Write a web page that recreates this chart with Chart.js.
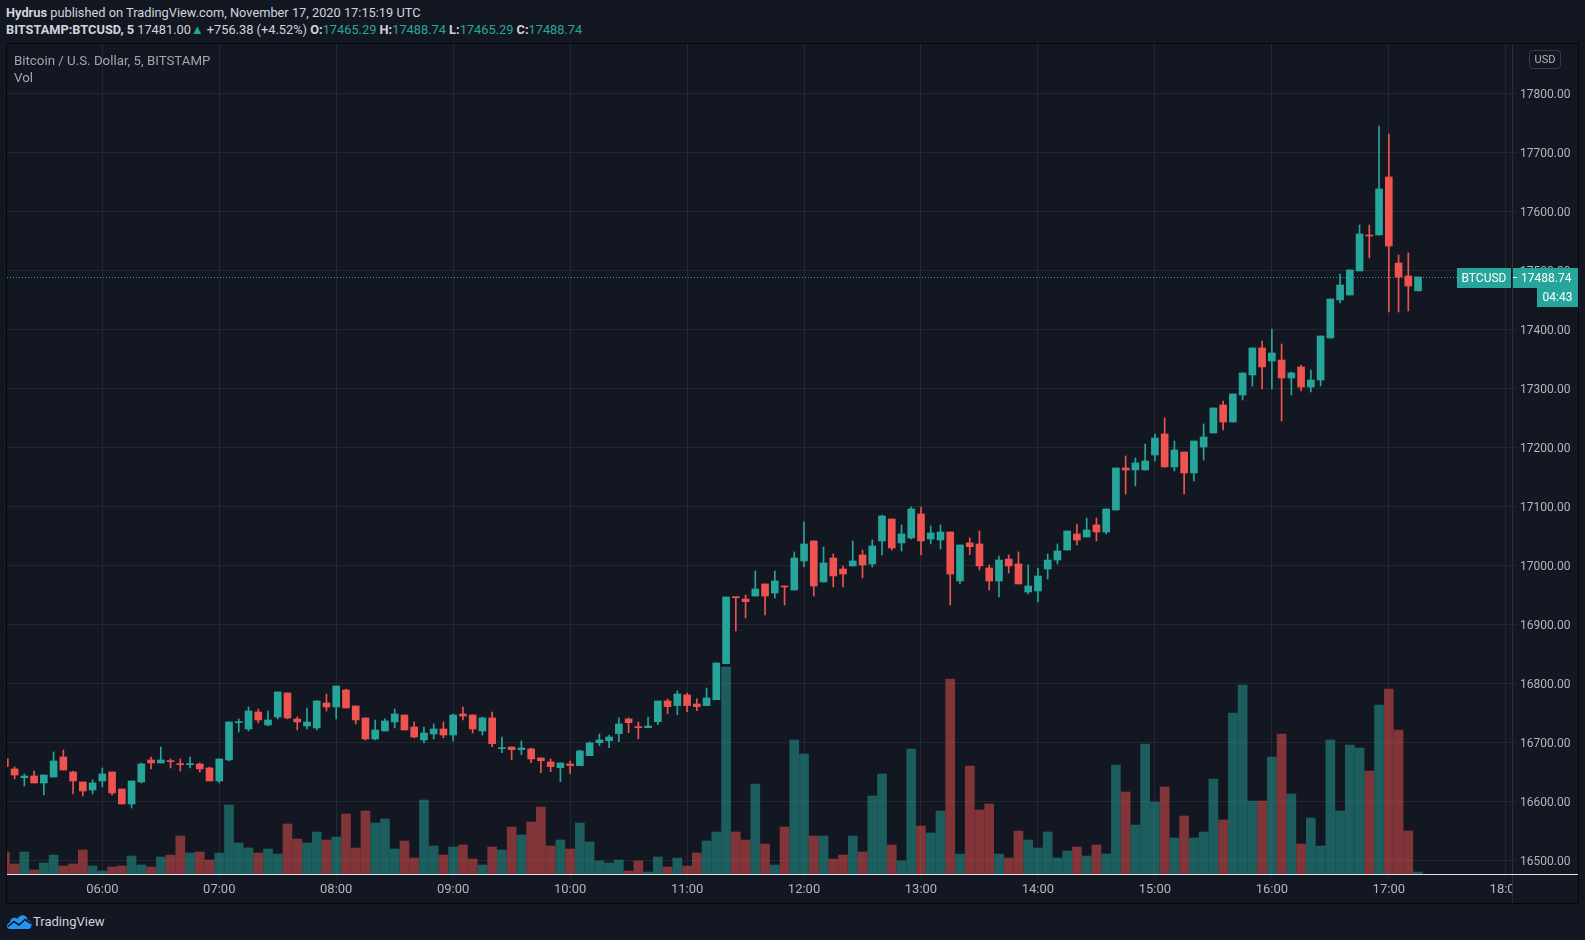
<!DOCTYPE html>
<html>
<head>
<meta charset="utf-8">
<script src="https://cdn.jsdelivr.net/npm/chart.js@4.4.1/dist/chart.umd.min.js"></script>
<style>
  body { margin: 0; width: 1585px; height: 940px; overflow: hidden; position: relative; background: #131722; color: #d1d4dc; font-family: Roboto, sans-serif; }
  .head { position: absolute; left: 6px; font: 12.8px "Liberation Sans Narrow", Roboto, sans-serif; line-height: 16px; white-space: nowrap; }
  .head b { font-weight: bold; }
  .t { color: #26a69a; }
  #frame { position: absolute; left: 6px; top: 43px; width: 1573px; height: 861px; box-sizing: border-box; border: 1px solid #05070b; }
  #chart { position: absolute; left: 0; top: 0; }
  .legend { position: absolute; left: 14px; font: 13.3px "Liberation Sans Narrow", Roboto, sans-serif; line-height: 16px; color: #a3a6af; }
  #usd { position: absolute; left: 1529px; top: 50px; width: 32px; height: 19px; box-sizing: border-box; border: 1px solid #363a45; border-radius: 4px; font: 11px Roboto, sans-serif; line-height: 17px; text-align: center; color: #b2b5be; }
  #footer { position: absolute; left: 6px; top: 913px; height: 16px; display: flex; align-items: center; font: 13px Roboto, sans-serif; color: #d1d4dc; }
  #footer svg { margin-right: 1px; }
</style>
</head>
<body>
<div class="head" style="top:5px"><b>Hydrus</b> published on TradingView.com, November 17, 2020 17:15:19 UTC</div>
<div class="head" style="top:22px"><b>BITSTAMP:BTCUSD, 5</b> 17481.00<span class="t">&#9650;</span> +756.38 (+4.52%) <b>O:</b><span class="t">17465.29</span> <b>H:</b><span class="t">17488.74</span> <b>L:</b><span class="t">17465.29</span> <b>C:</b><span class="t">17488.74</span></div>

<div id="frame"><canvas id="chart" width="1571" height="859"></canvas></div>
<div class="legend" style="top:53px">Bitcoin / U.S. Dollar, 5, BITSTAMP</div>
<div class="legend" style="top:70px">Vol</div>
<div id="usd">USD</div>

<div id="footer">
  <svg width="26" height="15" viewBox="0 0 26 15">
    <path d="M4 15 C0 15 0 9 4 8.5 C4 4 9 2.5 11.5 5 C13.5 0 21 0 21.5 6 C25 6 26.5 10 25 13 C24.5 14.5 23.5 15 22 15 Z" fill="#2196f3"/>
    <polyline points="2,12.5 8,7.5 13,11 19,5.5 25,9.5" fill="none" stroke="#131722" stroke-width="1.6"/>
  </svg>
  <span>TradingView</span>
</div>

<script>
// 5 minute candles, BITSTAMP:BTCUSD, 17 Nov 2020, first candle 05:10 UTC
const firstCandle = "05:10";
const candleMinutes = 5;

const opens = [
  16671.8, 16654.8, 16640.1, 16642.9, 16631.1, 16641.2, 16675.1, 16649.7, 16632.8, 16619.2,
  16634.5, 16649.7, 16620.9, 16595.5, 16632.8, 16670.1, 16665.0, 16668.4, 16663.3, 16662.2,
  16663.3, 16656.5, 16634.5, 16670.1, 16733.3, 16722.6, 16751.4, 16729.4, 16742.9, 16783.6,
  16739.6, 16727.7, 16724.3, 16766.7, 16759.9, 16788.7, 16761.6, 16741.3, 16705.7, 16719.2,
  16734.5, 16746.3, 16726.0, 16704.0, 16714.1, 16722.6, 16712.4, 16748.0, 16746.3, 16719.2,
  16741.3, 16689.3, 16692.1, 16687.6, 16688.7, 16673.5, 16666.7, 16657.1, 16663.3, 16660.5,
  16677.4, 16699.4, 16702.8, 16714.7, 16739.6, 16726.0, 16724.9, 16735.0, 16770.1, 16762.2,
  16780.2, 16765.0, 16762.2, 16772.3, 16833.3, 16946.3, 16942.9, 16948.0, 16968.4, 16953.1,
  16965.0, 16958.2, 17007.4, 17041.3, 16971.8, 17012.4, 16993.8, 16998.9, 17017.5, 17002.3,
  17041.3, 17078.5, 17037.9, 17046.3, 17087.0, 17044.6, 17043.0, 17056.5, 16973.5, 17037.9,
  17036.2, 16995.5, 16973.4, 17010.7, 17002.3, 16954.8, 16956.5, 16993.8, 17009.0, 17026.0,
  17053.1, 17048.0, 17068.4, 17056.5, 17093.8, 17165.0, 17161.6, 17161.6, 17187.0, 17222.6,
  17166.7, 17192.1, 17156.5, 17200.6, 17224.3, 17271.7, 17242.9, 17288.7, 17322.6, 17368.4,
  17346.3, 17348.0, 17317.5, 17336.2, 17302.2, 17314.1, 17385.3, 17449.7, 17458.2, 17498.9,
  17559.9, 17559.9, 17658.2, 17512.4, 17490.4, 17465.29
];
const highs = [
  16675.0, 16658.2, 16646.3, 16651.4, 16644.6, 16683.6, 16687.0, 16651.4, 16632.8, 16636.2,
  16656.5, 16649.7, 16620.9, 16634.5, 16665.0, 16675.1, 16692.1, 16671.8, 16671.8, 16675.1,
  16665.0, 16658.2, 16671.8, 16734.5, 16739.6, 16759.9, 16756.5, 16753.1, 16785.3, 16783.6,
  16742.9, 16758.2, 16770.1, 16781.9, 16795.5, 16790.4, 16761.6, 16741.3, 16737.9, 16739.6,
  16756.5, 16746.3, 16734.5, 16726.0, 16731.1, 16734.5, 16748.0, 16759.9, 16746.3, 16742.9,
  16751.4, 16709.0, 16692.1, 16702.3, 16690.4, 16673.5, 16671.8, 16665.0, 16668.4, 16687.0,
  16700.6, 16714.1, 16712.4, 16741.3, 16741.3, 16734.5, 16742.9, 16770.1, 16773.5, 16787.0,
  16783.6, 16773.5, 16792.1, 16834.5, 16946.3, 16946.3, 16949.7, 16990.4, 16968.4, 16990.4,
  16965.0, 17022.6, 17073.5, 17041.3, 17031.1, 17019.2, 16998.9, 17041.3, 17026.0, 17043.0,
  17085.3, 17078.5, 17068.4, 17098.9, 17098.9, 17066.7, 17068.4, 17056.5, 17034.5, 17046.3,
  17058.2, 17000.6, 17015.8, 17017.5, 17022.6, 17000.6, 16995.5, 17019.2, 17036.2, 17058.2,
  17070.1, 17080.2, 17080.2, 17095.5, 17165.0, 17185.3, 17181.9, 17205.7, 17222.6, 17249.7,
  17210.7, 17192.1, 17210.7, 17239.6, 17266.7, 17278.5, 17290.4, 17326.0, 17368.4, 17380.2,
  17400.6, 17375.1, 17327.7, 17339.5, 17331.1, 17388.7, 17451.4, 17493.8, 17500.6, 17576.8,
  17576.8, 17744.6, 17731.1, 17526.0, 17529.4, 17488.74
];
const lows = [
  16655.0, 16637.9, 16626.0, 16631.1, 16610.7, 16641.2, 16653.1, 16612.4, 16609.0, 16612.4,
  16624.3, 16610.7, 16595.5, 16588.7, 16631.1, 16654.8, 16665.0, 16656.5, 16651.4, 16656.5,
  16649.7, 16634.5, 16631.1, 16668.4, 16717.5, 16719.2, 16732.8, 16727.7, 16739.6, 16739.6,
  16720.9, 16722.6, 16720.9, 16753.1, 16739.6, 16758.2, 16731.1, 16704.0, 16704.0, 16719.2,
  16724.3, 16720.9, 16707.4, 16698.9, 16705.7, 16707.4, 16702.3, 16737.9, 16715.8, 16712.4,
  16692.7, 16682.5, 16670.6, 16679.1, 16665.5, 16648.6, 16650.3, 16633.3, 16646.9, 16660.5,
  16677.4, 16694.4, 16691.0, 16701.1, 16716.4, 16706.2, 16724.9, 16730.0, 16748.6, 16746.9,
  16752.0, 16753.7, 16762.2, 16772.3, 16833.3, 16888.7, 16910.7, 16948.0, 16915.8, 16944.6,
  16932.8, 16958.2, 16997.2, 16948.0, 16971.8, 16963.3, 16963.3, 16998.9, 16978.5, 16997.2,
  17017.5, 17026.0, 17024.3, 17044.6, 17017.5, 17036.2, 17027.7, 16932.8, 16968.4, 17018.1,
  16992.1, 16958.2, 16946.3, 16987.0, 16968.4, 16951.4, 16937.9, 16976.8, 17002.3, 17026.0,
  17034.5, 17048.0, 17041.2, 17053.1, 17093.8, 17120.9, 17134.5, 17161.6, 17176.8, 17166.7,
  17159.9, 17120.9, 17142.9, 17178.5, 17224.3, 17229.4, 17242.9, 17280.2, 17303.9, 17298.9,
  17298.9, 17244.6, 17288.7, 17295.5, 17293.8, 17304.0, 17385.3, 17444.6, 17458.2, 17498.9,
  17520.9, 17559.9, 17429.4, 17429.4, 17431.1, 17465.29
];
const closes = [
  16658.8, 16644.6, 16642.9, 16631.1, 16644.6, 16668.4, 16653.1, 16634.5, 16617.5, 16631.1,
  16646.3, 16614.1, 16595.5, 16634.5, 16663.3, 16665.0, 16670.1, 16667.2, 16662.2, 16663.3,
  16654.8, 16634.5, 16671.8, 16734.5, 16734.5, 16753.1, 16737.9, 16737.9, 16785.3, 16741.3,
  16734.5, 16734.5, 16770.1, 16759.9, 16795.5, 16758.2, 16737.9, 16705.7, 16720.9, 16736.2,
  16748.0, 16720.9, 16709.0, 16715.8, 16722.6, 16712.4, 16746.3, 16744.6, 16722.6, 16741.3,
  16697.7, 16690.4, 16687.6, 16690.4, 16671.8, 16668.9, 16658.8, 16665.0, 16660.5, 16685.3,
  16698.9, 16704.0, 16709.0, 16731.1, 16733.3, 16724.9, 16727.7, 16770.1, 16760.5, 16781.9,
  16762.2, 16760.5, 16775.2, 16834.5, 16946.3, 16945.2, 16938.4, 16959.9, 16948.0, 16973.5,
  16963.3, 17012.4, 17036.2, 16965.0, 17004.0, 16981.9, 16985.3, 17007.4, 17000.6, 17032.8,
  17083.6, 17029.4, 17053.1, 17095.5, 17041.3, 17054.8, 17056.5, 16985.3, 17034.5, 17031.6,
  16998.9, 16973.4, 17009.0, 16998.9, 16968.4, 16965.0, 16981.9, 17009.0, 17024.3, 17058.2,
  17042.9, 17059.9, 17056.5, 17095.5, 17165.0, 17161.6, 17173.5, 17176.8, 17215.8, 17166.7,
  17195.5, 17156.5, 17210.7, 17217.5, 17266.7, 17242.9, 17290.4, 17326.0, 17368.4, 17336.2,
  17359.9, 17317.5, 17326.0, 17302.2, 17314.1, 17388.7, 17451.4, 17475.1, 17500.6, 17561.6,
  17558.2, 17637.9, 17541.2, 17488.7, 17473.4, 17488.74
];
const volumes = [
  44, 20, 44, 8, 22, 38, 16, 20, 48, 16,
  6, 14, 16, 36, 18, 14, 34, 38, 76, 42,
  44, 28, 42, 138, 62, 52, 42, 50, 40, 100,
  70, 62, 84, 68, 74, 120, 52, 126, 102, 110,
  50, 66, 32, 148, 56, 38, 54, 58, 30, 18,
  54, 48, 94, 78, 104, 134, 56, 68, 50, 102,
  64, 26, 22, 28, 6, 26, 4, 34, 14, 32,
  16, 42, 66, 84, 414, 84, 68, 180, 60, 18,
  94, 268, 240, 76, 76, 30, 38, 76, 44, 156,
  200, 58, 26, 250, 96, 82, 126, 390, 40, 216,
  128, 140, 40, 32, 86, 68, 52, 84, 32, 46,
  54, 36, 58, 40, 218, 164, 98, 260, 144, 174,
  72, 116, 72, 84, 190, 108, 322, 378, 146, 146,
  234, 280, 160, 60, 112, 56, 268, 126, 258, 252,
  206, 338, 370, 288, 86, 4
];

const hourTicks = ["06:00", "07:00", "08:00", "09:00", "10:00", "11:00", "12:00",
  "13:00", "14:00", "15:00", "16:00", "17:00", "18:00"];
const priceTicks = [16500, 16600, 16700, 16800, 16900, 17000, 17100, 17200,
  17300, 17400, 17500, 17600, 17700, 17800];

const symbol = "BTCUSD";
const lastPrice = 17488.74;
const countdown = "04:43";

// visible window
const timeMin = 311.1, timeMax = 1083.2;     // minutes after midnight
const priceMin = 16476.8, priceMax = 17883.6;
const volumeMax = 1660;

const BG = "#131722";
const UP = "#26a69a";
const DOWN = "#ef5350";
const GRID = "#232732";
const SEP = "#2a2e39";
const AXIS_TEXT = "#b2b5be";

function toMinutes(s) {
  const [h, m] = s.split(":").map(Number);
  return h * 60 + m;
}

const t0 = toMinutes(firstCandle);
const times = opens.map((_, i) => t0 + i * candleMinutes);
const isUp = opens.map((o, i) => closes[i] >= o);
const candleColors = isUp.map(u => (u ? UP : DOWN));
const volumeColors = isUp.map(u => (u ? "rgba(38,166,154,0.5)" : "rgba(239,83,80,0.5)"));

const lastPricePlugin = {
  id: "lastPrice",
  beforeDatasetsDraw(chart) {
    const { ctx, chartArea: a, scales: { y } } = chart;
    const py = Math.round(y.getPixelForValue(lastPrice)) + 0.5;
    ctx.save();
    ctx.strokeStyle = UP;
    ctx.lineWidth = 1;
    ctx.setLineDash([1, 2]);
    ctx.beginPath();
    ctx.moveTo(a.left, py);
    ctx.lineTo(a.right, py);
    ctx.stroke();
    ctx.restore();
  },
  afterDraw(chart) {
    const { ctx, chartArea: a, scales: { y } } = chart;
    const W = chart.width, H = chart.height;
    ctx.save();
    // the 18:00 label is cut off by the price scale
    ctx.fillStyle = BG;
    ctx.fillRect(a.right, a.bottom + 1, W - a.right, H - a.bottom);
    ctx.fillStyle = SEP;
    ctx.fillRect(a.right, 0, 1, H);
    ctx.fillStyle = "#e0e3eb";
    ctx.fillRect(0, a.bottom, W, 1);

    const py = Math.round(y.getPixelForValue(lastPrice));
    const top = py - 9;
    ctx.fillStyle = UP;
    ctx.fillRect(a.right - 55, top, 54, 20);
    ctx.fillRect(a.right + 1, top, W - a.right - 1, 20);
    ctx.fillRect(a.right + 25, top + 20, W - a.right - 25, 19);
    ctx.fillStyle = "#ffffff";
    ctx.fillRect(a.right + 1, py, 4, 1);
    ctx.font = "12px Roboto";
    ctx.textBaseline = "middle";
    ctx.textAlign = "center";
    ctx.fillText(symbol, a.right - 28, top + 10.5);
    ctx.fillText(countdown, a.right + 25 + (W - a.right - 25) / 2, top + 30);
    ctx.textAlign = "left";
    ctx.fillText(lastPrice.toFixed(2), a.right + 9, top + 10.5);
    ctx.restore();
  }
};

new Chart(document.getElementById("chart").getContext("2d"), {
  type: "bar",
  data: {
    datasets: [
      {
        label: "Volume",
        yAxisID: "yv",
        data: times.map((t, i) => ({ x: t, y: volumes[i] })),
        backgroundColor: volumeColors,
        barThickness: 9,
        grouped: false,
        order: 3
      },
      {
        label: "Wick",
        data: times.map((t, i) => ({ x: t, y: [lows[i], highs[i]] })),
        backgroundColor: candleColors,
        barThickness: 1,
        grouped: false,
        order: 2
      },
      {
        label: "Body",
        data: times.map((t, i) => ({ x: t, y: [opens[i], closes[i]] })),
        backgroundColor: candleColors,
        barThickness: 7,
        minBarLength: 1,
        grouped: false,
        order: 1
      }
    ]
  },
  options: {
    responsive: false,
    animation: false,
    layout: { padding: 0 },
    plugins: { legend: { display: false }, tooltip: { enabled: false } },
    scales: {
      x: {
        type: "linear",
        offset: false,
        min: timeMin,
        max: timeMax,
        afterBuildTicks: s => { s.ticks = hourTicks.map(h => ({ value: toMinutes(h) })); },
        afterFit: s => { s.height = 29; s.paddingLeft = 0; s.paddingRight = 0; },
        grid: { color: GRID, tickLength: 4, offset: false },
        border: { display: false },
        ticks: {
          color: AXIS_TEXT,
          font: { family: "Roboto", size: 13 },
          padding: 4,
          maxRotation: 0,
          autoSkip: false,
          callback: v => hourTicks.find(h => toMinutes(h) === v) || ""
        }
      },
      y: {
        position: "right",
        min: priceMin,
        max: priceMax,
        afterBuildTicks: s => { s.ticks = priceTicks.map(p => ({ value: p })); },
        afterFit: s => { s.width = 66; s.paddingTop = 0; s.paddingBottom = 0; },
        grid: { color: GRID, tickLength: 5 },
        border: { display: false },
        ticks: {
          color: AXIS_TEXT,
          font: { family: "Roboto", size: 12 },
          padding: 3,
          labelOffset: 1.5,
          callback: v => v.toFixed(2)
        }
      },
      yv: { display: false, min: 0, max: volumeMax }
    }
  },
  plugins: [lastPricePlugin]
});
</script>
</body>
</html>
